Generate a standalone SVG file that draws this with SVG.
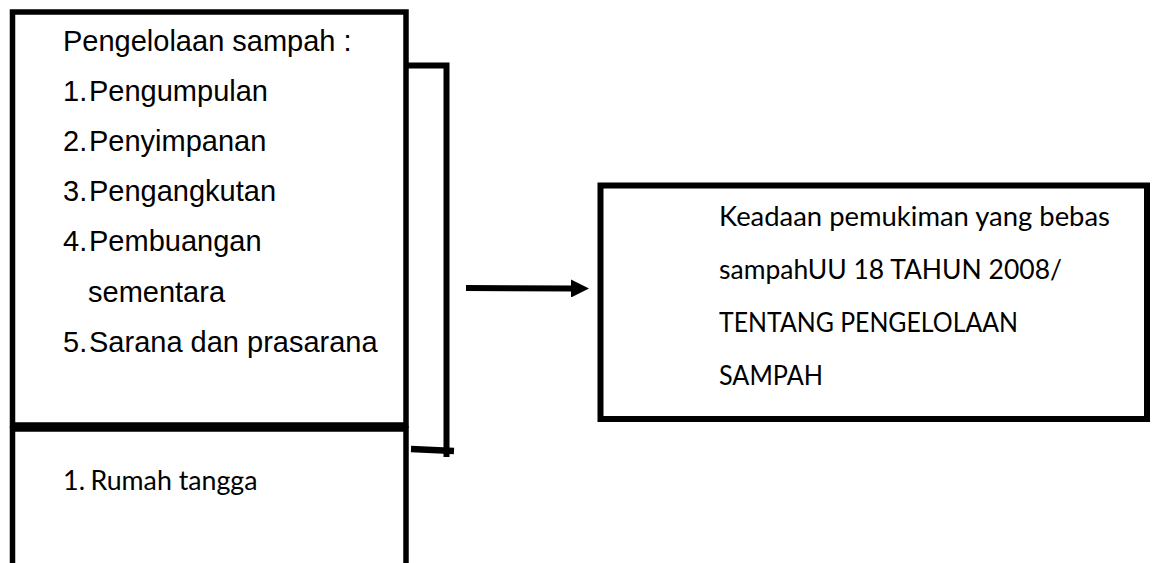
<svg xmlns="http://www.w3.org/2000/svg" width="1152" height="563" viewBox="0 0 1152 563">
  <style>
    .box { fill: #ffffff; stroke: #000000; stroke-width: 5.5; }
    .conn { fill: none; stroke: #000000; stroke-width: 5.5; }
    .arial { font-family: "Liberation Sans", Arial, sans-serif; font-size: 29px; fill: #000000; }
    .cal { font-family: Lato, "Open Sans", sans-serif; font-size: 27px; fill: #000000; }
  </style>
  <defs>
    <marker id="head" markerUnits="userSpaceOnUse" markerWidth="18" markerHeight="18" refX="3" refY="9" orient="auto">
      <path d="M0,0 L18,9 L0,18 z" fill="#000000"/>
    </marker>
  </defs>

  <!-- waste management steps -->
  <g id="node-pengelolaan">
    <rect class="box" x="12.5" y="12" width="393.5" height="413"/>
    <text class="arial" x="63" y="51">Pengelolaan sampah :</text>
    <text class="arial" x="63" y="101">1.</text><text class="arial" x="89" y="101">Pengumpulan</text>
    <text class="arial" x="63" y="151">2.</text><text class="arial" x="89" y="151">Penyimpanan</text>
    <text class="arial" x="63" y="201">3.</text><text class="arial" x="89" y="201">Pengangkutan</text>
    <text class="arial" x="63" y="251">4.</text><text class="arial" x="89" y="251">Pembuangan</text>
    <text class="arial" x="88" y="302">sementara</text>
    <text class="arial" x="63" y="352">5.</text><text class="arial" x="89" y="352">Sarana dan prasarana</text>
  </g>

  <!-- waste sources -->
  <g id="node-sumber">
    <rect class="box" x="12.5" y="429" width="393.5" height="200"/>
    <text class="cal" x="63" y="490">1.</text>
    <text class="cal" x="90.5" y="490" textLength="167" lengthAdjust="spacingAndGlyphs">Rumah tangga</text>
  </g>

  <!-- goal / regulation -->
  <g id="node-keadaan">
    <rect class="box" x="600.5" y="185.5" width="546.5" height="233.5" style="stroke-width:6"/>
    <text class="cal" x="719" y="226" textLength="391" lengthAdjust="spacingAndGlyphs">Keadaan pemukiman yang bebas</text>
    <text class="cal" x="719" y="279" textLength="343" lengthAdjust="spacingAndGlyphs">sampahUU 18 TAHUN 2008/</text>
    <text class="cal" x="719" y="332" textLength="299" lengthAdjust="spacingAndGlyphs">TENTANG PENGELOLAAN</text>
    <text class="cal" x="719" y="385" textLength="104" lengthAdjust="spacingAndGlyphs">SAMPAH</text>
  </g>

  <g id="connectors">
    <polyline class="conn" points="408,65.5 446.5,65.5 446.5,457" style="stroke-width:6"/>
    <line class="conn" x1="411" y1="449" x2="454" y2="451" style="stroke-width:6.5"/>
    <line class="conn" x1="466" y1="288" x2="574" y2="288.5" style="stroke-width:6" marker-end="url(#head)"/>
  </g>
</svg>
